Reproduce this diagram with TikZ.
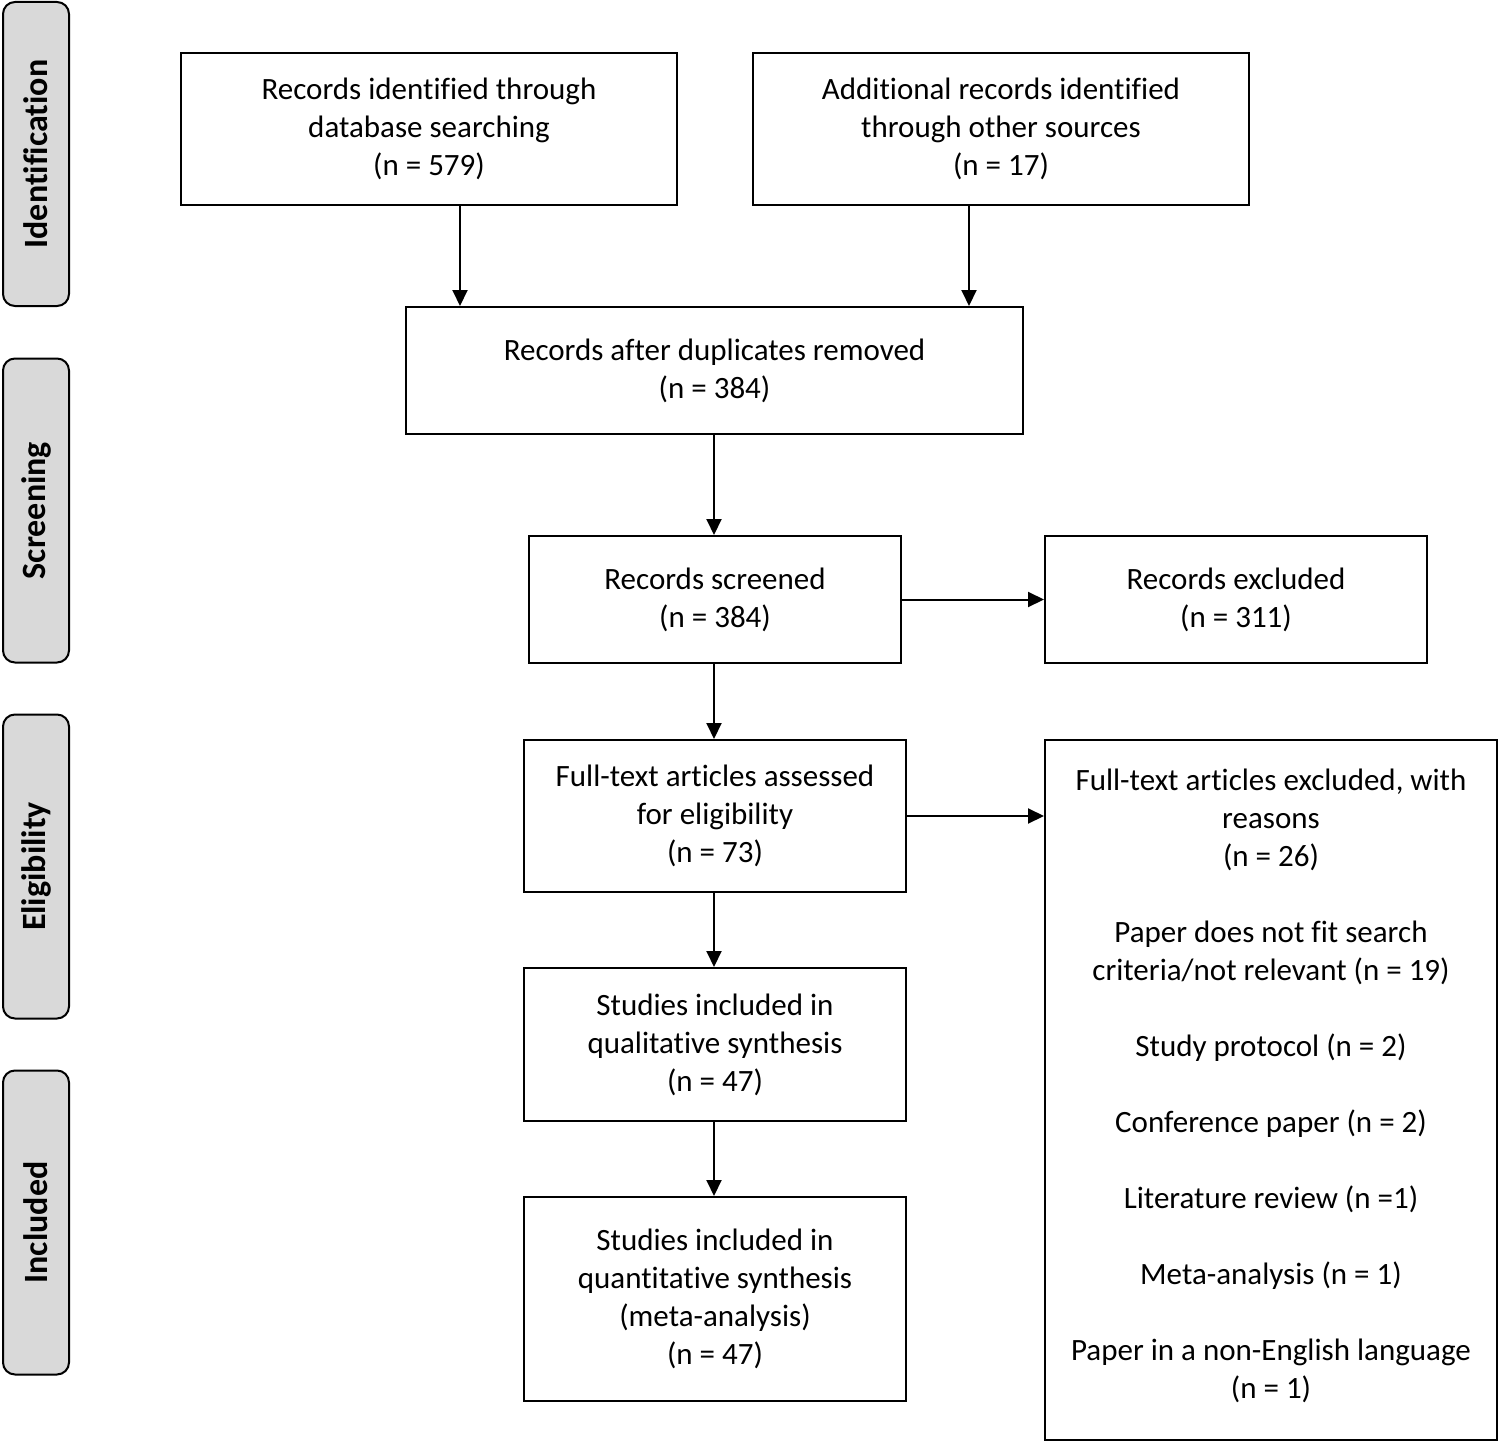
\documentclass[tikz,border=0pt]{standalone}
\usepackage{fontspec}
\setmainfont{Carlito}[Ligatures=NoCommon]
\usetikzlibrary{arrows.meta}
\begin{document}
\begin{tikzpicture}[x=1pt,y=-1pt,
  box/.style={draw, line width=2pt, align=center, font=\fontsize{31}{38}\selectfont, inner sep=0pt},
  phase/.style={draw, line width=2pt, fill=black!15, rounded corners=12pt, rotate=90,
    minimum width=304pt, minimum height=66pt, inner sep=0pt, font=\fontsize{34}{38}\selectfont\bfseries},
  arr/.style={line width=2pt, -{Triangle[length=16pt,width=15pt]}}]
\useasboundingbox (0,0) rectangle (1499,1442);
\node[phase] (p1) at (36,154) {Identification};
\node[phase] (p2) at (36,510.5) {Screening};
\node[phase] (p3) at (36,866.5) {Eligibility};
\node[phase] (p4) at (36,1222.5) {Included};
\node[box, minimum width=496pt, minimum height=152pt] (A) at (429,129) {Records identified through\\database searching\\(n = 579)};
\node[box, minimum width=496pt, minimum height=152pt] (B) at (1001,129) {Additional records identified\\through other sources\\(n = 17)};
\node[box, minimum width=617pt, minimum height=127pt] (C) at (714.5,370.5) {Records after duplicates removed\\(n = 384)};
\node[box, minimum width=372pt, minimum height=127pt] (D) at (715,599.5) {Records screened\\(n = 384)};
\node[box, minimum width=382pt, minimum height=127pt] (E) at (1236,599.5) {Records excluded\\(n = 311)};
\node[box, minimum width=382pt, minimum height=152pt] (F) at (715,816) {Full-text articles assessed\\for eligibility\\(n = 73)};
\node[box, minimum width=452pt, minimum height=700pt] (G) at (1271,1090) {Full-text articles excluded, with\\reasons\\(n = 26)\\[38pt]Paper does not fit search\\criteria/not relevant (n = 19)\\[38pt]Study protocol (n = 2)\\[38pt]Conference paper (n = 2)\\[38pt]Literature review (n =1)\\[38pt]Meta-analysis (n = 1)\\[38pt]Paper in a non-English language\\(n = 1)\\[-26pt]\mbox{}};
\node[box, minimum width=382pt, minimum height=153pt] (H) at (715,1044.5) {Studies included in\\qualitative synthesis\\(n = 47)};
\node[box, minimum width=382pt, minimum height=204pt] (I) at (715,1299) {Studies included in\\quantitative synthesis\\(meta-analysis)\\(n = 47)};
\coordinate (ax) at (460,0);
\coordinate (bx) at (969,0);
\coordinate (cx) at (714,0);
\draw[arr] (A.south -| ax) -- (C.north -| ax);
\draw[arr] (B.south -| bx) -- (C.north -| bx);
\draw[arr] (C.south -| cx) -- (D.north -| cx);
\draw[arr] (D.east) -- (E.west |- D.east);
\draw[arr] (D.south -| cx) -- (F.north -| cx);
\draw[arr] (F.east) -- (G.west |- F.east);
\draw[arr] (F.south -| cx) -- (H.north -| cx);
\draw[arr] (H.south -| cx) -- (I.north -| cx);
\end{tikzpicture}
\end{document}
